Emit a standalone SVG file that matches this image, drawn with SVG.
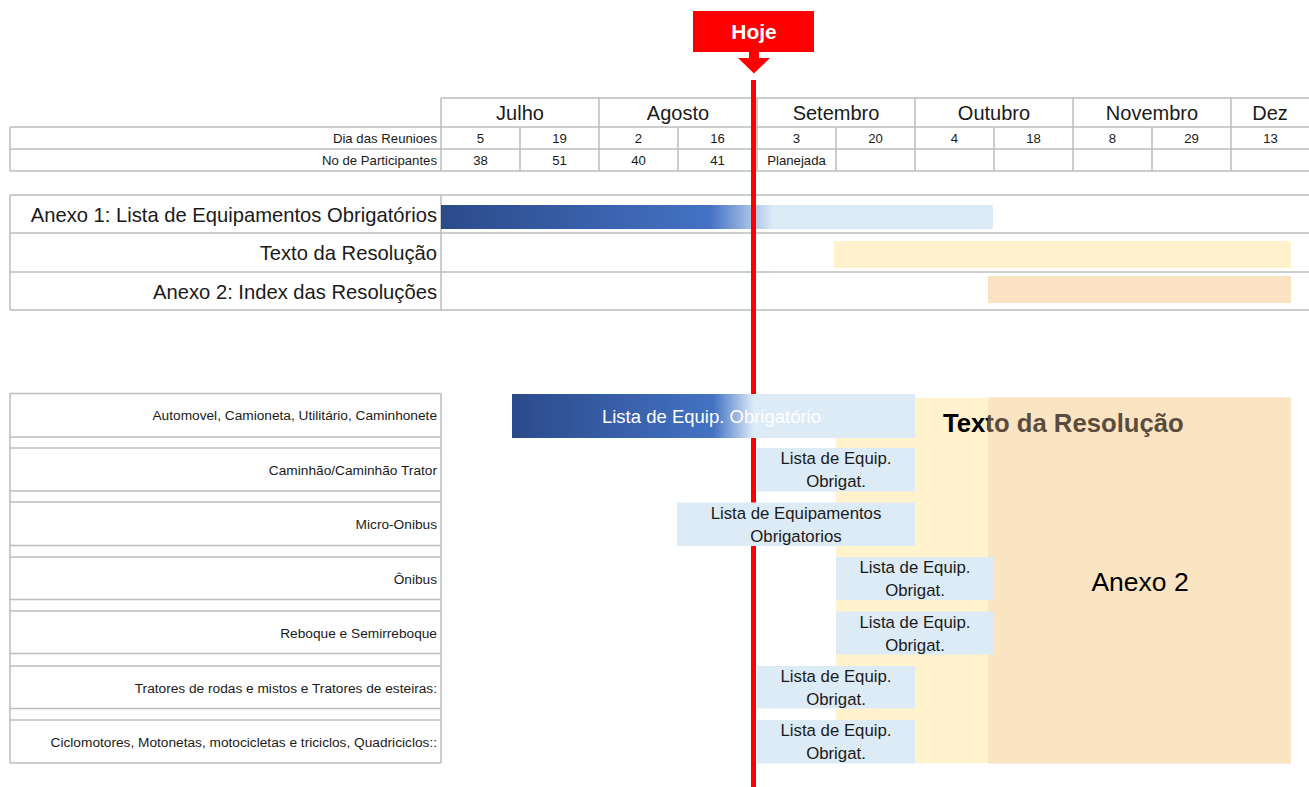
<svg xmlns="http://www.w3.org/2000/svg" width="1309" height="787" viewBox="0 0 1309 787">
<defs>
<linearGradient id="gA1" x1="0" y1="0" x2="1" y2="0">
<stop offset="0" stop-color="#2B4A8A"/>
<stop offset="0.487" stop-color="#4472C4"/>
<stop offset="0.603" stop-color="#DDEBF7"/>
<stop offset="1" stop-color="#DDEBF7"/>
</linearGradient>
<linearGradient id="gAuto" x1="0" y1="0" x2="1" y2="0">
<stop offset="0" stop-color="#2B4A8A"/>
<stop offset="0.5" stop-color="#4472C4"/>
<stop offset="0.6" stop-color="#DDEBF7"/>
<stop offset="1" stop-color="#DDEBF7"/>
</linearGradient>
<style>
.ln{stroke:#BDBDBD;stroke-width:1.5;fill:none}
.t{font-family:"Liberation Sans",Arial,sans-serif;fill:#1a1a1a}
.sm{font-size:13.2px}
.mo{font-size:20px;text-anchor:middle}
.c{text-anchor:middle}
.r{text-anchor:end}
.lg{font-size:20.2px}
.row{font-size:13.7px}
.box{fill:#DDEBF7}
.bt{font-size:16.8px;text-anchor:middle}
</style>
</defs>
<rect width="1309" height="787" fill="#ffffff"/>

<g id="header-table">
<path class="ln" d="M441 98H1309M10 127H1309M10 149H1309M10 171H1309"/>
<path class="ln" d="M10 127V171M441 98V171M599 98V171M757 98V171M915 98V171M1073 98V171M1231 98V171M520 127V171M678 127V171M836 127V171M994 127V171M1152 127V171"/>
<g class="t mo">
<text x="520" y="120">Julho</text>
<text x="678" y="120">Agosto</text>
<text x="836" y="120">Setembro</text>
<text x="994" y="120">Outubro</text>
<text x="1152" y="120">Novembro</text>
<text x="1270" y="120">Dez</text>
</g>
<g class="t sm">
<text class="r" x="437" y="143">Dia das Reunioes</text>
<text class="r" x="437" y="165">No de Participantes</text>
</g>
<g class="t sm c">
<text x="480.5" y="143">5</text>
<text x="559.5" y="143">19</text>
<text x="638.5" y="143">2</text>
<text x="717.5" y="143">16</text>
<text x="796.5" y="143">3</text>
<text x="875.5" y="143">20</text>
<text x="954.5" y="143">4</text>
<text x="1033.5" y="143">18</text>
<text x="1112.5" y="143">8</text>
<text x="1191.5" y="143">29</text>
<text x="1270.5" y="143">13</text>
<text x="480.5" y="165">38</text>
<text x="559.5" y="165">51</text>
<text x="638.5" y="165">40</text>
<text x="717.5" y="165">41</text>
<text x="796.5" y="165">Planejada</text>
</g>
</g>

<g id="anexo-table">
<path class="ln" d="M10 195H1309M10 233H1309M10 272H1309M10 310H1309M10 195V310M441 195V310"/>
<text class="t lg r" x="437" y="222">Anexo 1: Lista de Equipamentos Obrigatórios</text>
<text class="t lg r" x="437" y="260">Texto da Resolução</text>
<text class="t lg r" x="437" y="299">Anexo 2: Index das Resoluções</text>
</g>

<g id="anexo-bars">
<rect id="bar-anexo1" x="441" y="205" width="552" height="24" fill="url(#gA1)"/>
<rect id="bar-texto" x="834" y="241" width="457" height="27" fill="#FFF2CC"/>
<rect id="bar-anexo2" x="988" y="276" width="303" height="27" fill="#FBE2C3"/>
</g>

<g id="vehicle-table">
<path class="ln" d="M10 393.5H441M10 437H441M10 448H441M10 491H441M10 502H441M10 545.5H441M10 557H441M10 599.5H441M10 611H441M10 653.5H441M10 666H441M10 708.5H441M10 720H441M10 763H441M10 393.5V763M441 393.5V763"/>
<g class="t row r">
<text x="437" y="420">Automovel, Camioneta, Utilitário, Caminhonete</text>
<text x="437" y="474.5">Caminhão/Caminhão Trator</text>
<text x="437" y="529">Micro-Onibus</text>
<text x="437" y="583.5">Ônibus</text>
<text x="437" y="638">Reboque e Semirreboque</text>
<text x="437" y="692.5">Tratores de rodas e mistos e Tratores de esteiras:</text>
<text x="437" y="747">Ciclomotores, Motonetas, motocicletas e triciclos, Quadriciclos::</text>
</g>
</g>

<g id="today-line">
<rect x="693" y="11" width="121" height="41" fill="#FF0000"/>
<polygon points="749,51 759,51 759,58 770,58 754,73.5 738,58 749,58" fill="#FF0000"/>
<text class="t" x="754" y="38.5" font-size="21" font-weight="bold" text-anchor="middle" style="fill:#ffffff">Hoje</text>
<rect x="751" y="80" width="5" height="707" fill="#FF0000"/>
</g>

<g id="phase-texto">
<rect x="836" y="398" width="455" height="365" fill="#FFF2CC"/>
<text class="t" x="943" y="432" font-size="25.7" font-weight="bold" style="fill:#000000">Texto da Resolução</text>
</g>

<g id="phase-anexo2">
<rect x="988" y="397" width="303" height="367" fill="#F4CBAD" fill-opacity="0.37"/>
<text class="t" x="1140" y="591" font-size="26.5" text-anchor="middle" style="fill:#000000">Anexo 2</text>
</g>

<g id="box-automovel">
<rect x="512" y="394" width="403" height="44" fill="url(#gAuto)"/>
<text class="t" x="711.5" y="423" font-size="18.5" text-anchor="middle" style="fill:#ffffff">Lista de Equip. Obrigatório</text>
</g>
<g id="box-caminhao">
<rect class="box" x="757" y="448" width="158" height="43.5"/>
<text class="t bt" x="836" y="464">Lista de Equip.</text>
<text class="t bt" x="836" y="487">Obrigat.</text>
</g>
<g id="box-micro">
<rect class="box" x="677" y="502.5" width="238" height="43.5"/>
<text class="t bt" x="796" y="518.5">Lista de Equipamentos</text>
<text class="t bt" x="796" y="541.5">Obrigatorios</text>
</g>
<g id="box-onibus">
<rect class="box" x="836" y="557" width="158" height="43"/>
<text class="t bt" x="915" y="573">Lista de Equip.</text>
<text class="t bt" x="915" y="596">Obrigat.</text>
</g>
<g id="box-reboque">
<rect class="box" x="836" y="611.5" width="158" height="43"/>
<text class="t bt" x="915" y="627.5">Lista de Equip.</text>
<text class="t bt" x="915" y="650.5">Obrigat.</text>
</g>
<g id="box-tratores">
<rect class="box" x="757" y="666" width="158" height="42.5"/>
<text class="t bt" x="836" y="682">Lista de Equip.</text>
<text class="t bt" x="836" y="705">Obrigat.</text>
</g>
<g id="box-ciclo">
<rect class="box" x="757" y="720" width="158" height="43.5"/>
<text class="t bt" x="836" y="736">Lista de Equip.</text>
<text class="t bt" x="836" y="759">Obrigat.</text>
</g>
</svg>
